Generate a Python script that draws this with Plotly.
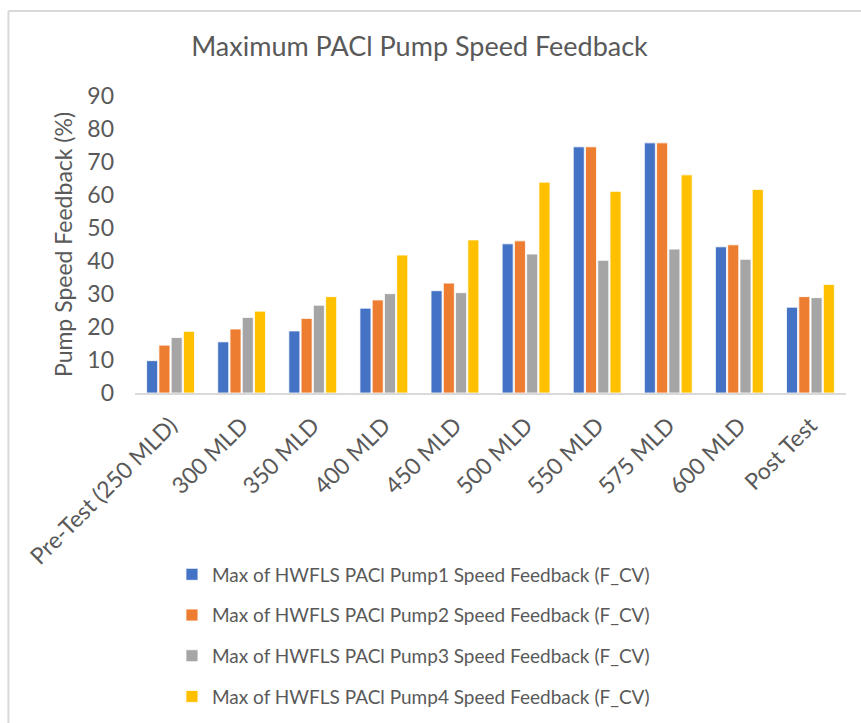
import plotly.graph_objects as go

categories = ["Pre-Test (250 MLD)", "300 MLD", "350 MLD", "400 MLD", "450 MLD",
              "500 MLD", "550 MLD", "575 MLD", "600 MLD", "Post Test"]

pump1 = [9.8, 15.5, 18.8, 25.7, 31.0, 45.2, 74.6, 75.8, 44.3, 26.0]
pump2 = [14.5, 19.4, 22.6, 28.2, 33.3, 46.1, 74.6, 75.8, 44.9, 29.2]
pump3 = [16.8, 22.9, 26.6, 30.1, 30.4, 42.1, 40.2, 43.6, 40.5, 28.9]
pump4 = [18.7, 24.8, 29.2, 41.8, 46.4, 63.9, 61.1, 66.1, 61.7, 32.9]

series_names = [
    "Max of HWFLS PACl Pump1 Speed Feedback (F_CV)",
    "Max of HWFLS PACl Pump2 Speed Feedback (F_CV)",
    "Max of HWFLS PACl Pump3 Speed Feedback (F_CV)",
    "Max of HWFLS PACl Pump4 Speed Feedback (F_CV)",
]
series_values = [pump1, pump2, pump3, pump4]
colors = ["#4472C4", "#ED7D31", "#A5A5A5", "#FFC000"]

FONT = "Lato"
TEXT = "#595959"

fig = go.Figure()
for i, (name, vals, col) in enumerate(zip(series_names, series_values, colors)):
    fig.add_trace(go.Bar(
        x=categories, y=vals, name=name,
        marker=dict(color=col, line=dict(color="white", width=0.8)),
        legendgroup=f"g{i}",
    ))

fig.update_layout(
    width=861, height=723,
    margin=dict(l=135, r=15, t=96, b=330, autoexpand=False),
    paper_bgcolor="white", plot_bgcolor="white",
    font=dict(family=FONT, color=TEXT),
    barmode="group", bargap=0.31, bargroupgap=0.1,
    title=dict(text="Maximum PACl Pump Speed Feedback",
               font=dict(family=FONT, size=27, color=TEXT),
               x=419.5 / 861, xref="container", xanchor="center",
               y=1 - 47 / 723, yref="container", yanchor="middle"),
    xaxis=dict(
        tickangle=-45, tickfont=dict(size=23, color=TEXT),
        showline=True, linecolor="#D9D9D9", linewidth=2,
        ticks="", showgrid=False, automargin=False,
        ticklabelstandoff=8,
    ),
    yaxis=dict(
        range=[0, 90], dtick=10, tickfont=dict(size=23, color=TEXT),
        showgrid=False, zeroline=False, showline=False, ticks="",
        ticklabelstandoff=20, automargin=False,
        title=dict(text="Pump Speed Feedback (%)",
                   font=dict(size=23, color=TEXT), standoff=8),
    ),
    legend=dict(
        orientation="v", x=0.052, xanchor="left", y=-0.547, yanchor="top",
        font=dict(family=FONT, size=19, color=TEXT),
        traceorder="grouped", tracegroupgap=13,
        itemwidth=30, bgcolor="rgba(0,0,0,0)",
    ),
    shapes=[
        dict(type="line", xref="paper", yref="paper",
             x0=-0.178, x1=1.03, y0=1.286, y1=1.286,
             line=dict(color="#D9D9D9", width=2)),
        dict(type="line", xref="paper", yref="paper",
             x0=-0.178, x1=-0.178, y0=1.286, y1=-1.12,
             line=dict(color="#D9D9D9", width=2)),
    ],
)

fig.write_html("out.html")
